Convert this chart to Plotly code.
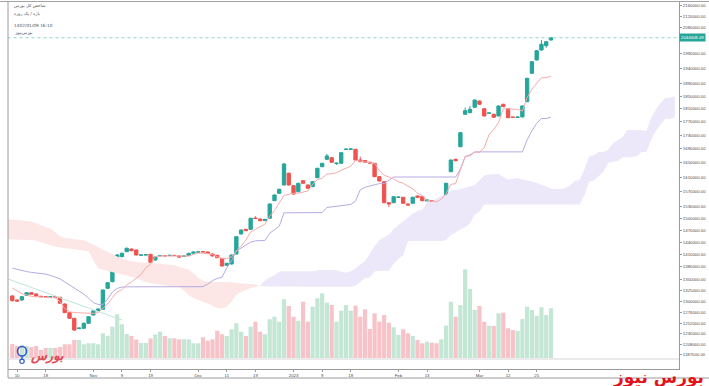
import math
import plotly.graph_objects as go

# ---------------- data (prices in thousands) ----------------
open_k = [1312.8, 1303.8, 1303.8, 1314.4, 1320.3, 1317.4, 1312.0, 1311.3, 1311.0, 1310.8,
          1310.0, 1294.9, 1275.8, 1263.5, 1241.5, 1242.0, 1252.8, 1270.7, 1280.1, 1283.2,
          1330.3, 1345.4, 1398.8, 1404.4, 1416.5, 1423.0, 1420.6, 1408.0, 1408.5, 1410.2,
          1396.4, 1406.5, 1407.0, 1407.0, 1407.7, 1406.1, 1405.3, 1406.8, 1412.6, 1415.5,
          1416.5, 1415.7, 1410.9, 1407.8, 1400.5, 1383.8, 1386.9, 1410.9, 1460.2, 1471.9,
          1471.9, 1500.5, 1498.1, 1493.8, 1500.0, 1546.0, 1565.7, 1588.2, 1620.4, 1586.3,
          1570.0, 1599.9, 1588.2, 1583.7, 1608.2, 1638.8, 1659.7, 1664.3, 1648.0, 1648.4,
          1688.0, 1688.5, 1688.4, 1657.7, 1656.3, 1651.5, 1648.4, 1611.0, 1597.2, 1540.7,
          1540.7, 1555.0, 1555.0, 1537.3, 1539.1, 1558.5, 1556.6, 1545.2, 1546.0, 1537.3,
          1523.3, 1547.8, 1624.8, 1659.7, 1696.0, 1792.9, 1797.9, 1814.6, 1834.3, 1810.2,
          1796.0, 1793.0, 1787.7, 1824.0, 1810.2, 1784.4, 1783.6, 1784.9, 1832.1, 1923.6,
          1967.9, 2001.9, 2016.8, 2036.6]
high_k = [1315.1, 1304.9, 1312.8, 1321.9, 1321.9, 1318.5, 1313.5, 1312.5, 1312.3, 1312.0,
          1310.6, 1296.0, 1276.2, 1264.1, 1243.5, 1254.5, 1268.6, 1280.5, 1285.0, 1327.5,
          1344.7, 1390.5, 1410.9, 1414.5, 1426.7, 1424.3, 1421.8, 1409.5, 1410.5, 1410.9,
          1404.9, 1408.0, 1408.0, 1408.5, 1408.5, 1407.3, 1407.0, 1413.3, 1417.0, 1417.0,
          1417.5, 1417.0, 1412.1, 1408.5, 1401.2, 1389.3, 1409.7, 1455.2, 1471.4, 1472.7,
          1501.3, 1505.3, 1499.4, 1498.1, 1538.6, 1562.5, 1577.9, 1649.2, 1622.6, 1587.6,
          1594.2, 1601.3, 1589.6, 1598.5, 1635.7, 1649.2, 1674.9, 1665.7, 1650.0, 1680.1,
          1690.0, 1690.5, 1689.3, 1667.1, 1657.7, 1652.5, 1649.2, 1612.3, 1598.5, 1541.2,
          1557.9, 1556.5, 1555.8, 1538.6, 1556.3, 1559.5, 1557.9, 1548.5, 1547.3, 1538.6,
          1533.3, 1594.2, 1659.1, 1661.1, 1738.7, 1813.3, 1818.7, 1839.0, 1835.8, 1811.8,
          1798.5, 1794.5, 1820.2, 1825.5, 1811.8, 1785.5, 1785.5, 1820.2, 1908.7, 1963.9,
          2001.3, 2036.6, 2032.4, 2046.2]
low_k = [1300.5, 1299.4, 1302.3, 1312.8, 1315.1, 1311.7, 1310.5, 1310.0, 1310.0, 1309.5,
         1294.9, 1275.1, 1262.0, 1236.3, 1240.5, 1240.6, 1252.3, 1269.7, 1279.5, 1282.8,
         1328.7, 1344.0, 1397.6, 1403.0, 1415.7, 1417.7, 1407.3, 1407.0, 1407.5, 1389.3,
         1395.2, 1405.5, 1405.5, 1406.0, 1406.0, 1402.5, 1404.0, 1406.1, 1412.1, 1414.5,
         1415.0, 1411.4, 1404.9, 1401.2, 1381.0, 1382.2, 1385.7, 1409.7, 1458.9, 1467.2,
         1470.7, 1498.5, 1492.5, 1493.0, 1498.7, 1545.2, 1564.4, 1586.8, 1586.8, 1562.5,
         1568.7, 1591.5, 1577.9, 1582.4, 1606.8, 1637.4, 1658.3, 1649.8, 1643.6, 1647.0,
         1687.0, 1687.5, 1656.3, 1651.5, 1649.8, 1647.5, 1609.6, 1597.7, 1539.4, 1529.4,
         1539.4, 1554.0, 1537.8, 1533.3, 1537.8, 1554.0, 1544.6, 1544.5, 1536.0, 1522.0,
         1522.0, 1546.5, 1623.4, 1654.3, 1694.6, 1791.4, 1796.3, 1813.0, 1822.4, 1786.2,
         1795.0, 1782.3, 1786.2, 1815.0, 1781.1, 1782.5, 1782.5, 1783.3, 1830.5, 1921.9,
         1966.2, 2000.2, 2009.9, 2034.9]
close_k = [1302.3, 1301.6, 1311.3, 1320.3, 1316.7, 1312.8, 1311.5, 1311.0, 1311.3, 1310.5,
           1296.5, 1275.8, 1263.5, 1238.4, 1242.5, 1252.8, 1267.0, 1279.5, 1283.9, 1326.4,
           1343.1, 1388.6, 1408.5, 1412.6, 1424.8, 1418.9, 1408.5, 1408.5, 1409.2, 1391.0,
           1403.7, 1407.0, 1406.5, 1407.7, 1407.2, 1403.7, 1406.0, 1412.6, 1415.7, 1416.0,
           1416.0, 1412.6, 1406.1, 1402.0, 1382.2, 1388.6, 1408.5, 1453.4, 1470.2, 1468.4,
           1500.0, 1499.5, 1493.8, 1497.4, 1537.3, 1561.2, 1576.5, 1646.4, 1588.2, 1563.8,
           1592.8, 1592.8, 1579.3, 1597.2, 1634.3, 1648.4, 1669.2, 1651.2, 1648.8, 1678.6,
           1688.8, 1689.2, 1657.7, 1652.9, 1651.2, 1649.0, 1611.0, 1599.1, 1540.7, 1537.3,
           1556.6, 1555.5, 1539.1, 1534.6, 1555.0, 1555.0, 1546.0, 1547.8, 1537.3, 1523.3,
           1532.0, 1592.8, 1657.7, 1655.7, 1737.2, 1804.0, 1808.3, 1837.4, 1824.0, 1787.7,
           1797.0, 1783.9, 1818.7, 1816.5, 1782.6, 1783.6, 1784.4, 1818.7, 1907.1, 1962.2,
           1999.6, 2021.7, 2030.7, 2044.40849]
volume = [140, 120, 130, 120, 110, 120, 80, 100, 100, 100,
          110, 137, 137, 180, 180, 137, 147, 147, 137, 247,
          223, 313, 437, 337, 240, 220, 185, 150, 150, 195,
          235, 263, 220, 197, 197, 187, 187, 187, 147, 147,
          207, 173, 187, 273, 237, 220, 287, 347, 263, 220,
          313, 363, 263, 237, 387, 413, 363, 587, 520, 413,
          373, 563, 363, 513, 597, 647, 553, 530, 363, 473,
          530, 473, 523, 413, 487, 290, 447, 363, 430, 353,
          307, 230, 287, 247, 220, 180, 147, 163, 153, 147,
          187, 325, 563, 413, 530, 887, 690, 480, 520, 363,
          323, 320, 447, 453, 297, 280, 270, 390, 513, 480,
          423, 507, 430, 497]
tenkan_k = [1331, 1324, 1318, 1315, 1312, 1311, 1310, 1309, 1309, 1309,
            1300, 1285, 1278, 1276, 1275.5, 1274.5, 1274.3, 1274.2, 1276, 1285,
            1295, 1309, 1322, 1327, 1338, 1345, 1353, 1362, 1378, 1386,
            1405, 1406, 1406.5, 1406, 1405.6, 1405, 1405, 1406, 1410, 1413,
            1413, 1411, 1410, 1404, 1400, 1400, 1404, 1418, 1430, 1445,
            1465, 1472, 1478, 1485, 1505, 1520, 1540, 1560, 1563, 1566,
            1566, 1568, 1572, 1590, 1603, 1607, 1618, 1619, 1622, 1629,
            1634, 1640, 1657, 1654, 1652, 1650, 1648, 1628, 1615, 1610,
            1605, 1597, 1593, 1585, 1578, 1566, 1560, 1546, 1545, 1543,
            1550, 1565, 1590, 1592, 1630, 1667, 1670, 1680, 1680, 1693,
            1731, 1747, 1767, 1810, 1810, 1810, 1808, 1803, 1845, 1872,
            1891, 1909, 1909, 1914]
kijun_k = [1377, 1374, 1371, 1369, 1367, 1366, 1365, 1363, 1360, 1356,
           1352, 1345, 1338, 1330, 1324, 1317, 1308, 1298, 1294, 1293,
           1306, 1322, 1330, 1333, 1333.6, 1333.6, 1333.6, 1333.6, 1333.6, 1333.6,
           1333.6, 1333.6, 1333.6, 1333.6, 1333.6, 1333.6, 1333.6, 1333.6, 1333.6, 1333.6,
           1334, 1340, 1348, 1353, 1356, 1378, 1395, 1418, 1426, 1432,
           1440, 1443, 1443, 1444, 1462, 1472, 1480, 1514, 1514.6, 1514.6,
           1514.6, 1514.6, 1514.6, 1514.6, 1514.6, 1514.6, 1528, 1530, 1531, 1532,
           1535, 1536, 1545, 1575, 1582, 1586, 1590, 1592, 1592, 1600,
           1610, 1610, 1610, 1610, 1610, 1610, 1610, 1610, 1610, 1610,
           1610, 1610, 1610, 1610, 1632, 1668, 1672, 1681, 1681, 1681,
           1681, 1681, 1681, 1681, 1681, 1681, 1681, 1681, 1716, 1743,
           1765, 1780, 1780, 1784]
# leading spans, bar index -1 .. 139
span_a_k = [1447,
            1446.8, 1446.5, 1446, 1445.7, 1445.3, 1443, 1439, 1435.5, 1432.5, 1429,
            1426.5, 1425, 1424, 1423, 1421.5, 1419.5, 1417, 1398, 1376, 1373,
            1370, 1367, 1364.5, 1362, 1360, 1357.5, 1354, 1349, 1344.5, 1342,
            1339.5, 1338.5, 1337.5, 1336, 1334.5, 1332.5, 1326, 1315, 1308, 1303,
            1299.8, 1295.8, 1291.2, 1286.1, 1285, 1289, 1300.5, 1315.5, 1322, 1327,
            1331, 1333.5, 1337, 1347.8, 1355.8, 1359.8, 1369.3, 1369.8, 1370, 1369.8,
            1369.6, 1369.3, 1369.3, 1369.8, 1371.8, 1373.3, 1373.3, 1372.3, 1371.8, 1368.8,
            1367, 1370, 1376, 1385.5, 1394, 1411.5, 1430, 1445, 1452, 1458.5,
            1472.5, 1481.5, 1491.5, 1502, 1512.5, 1519, 1523, 1541, 1543.3, 1552.3,
            1558.8, 1560.8, 1573, 1574.5, 1576.5, 1580.5, 1584.5, 1588, 1601, 1614.5,
            1617, 1618, 1619, 1610, 1603.5, 1605, 1607.5, 1603.5, 1601.5, 1597.5,
            1594, 1588, 1585, 1578, 1577.5, 1576.5, 1580, 1587.5, 1600, 1601,
            1631, 1667.5, 1671, 1680.5, 1680.5, 1687, 1706, 1714, 1724, 1745.5,
            1745.5, 1745.5, 1744.5, 1742, 1780.5, 1807.5, 1828, 1844.5, 1844.5, 1849]
span_b_k = [1497.6,
            1496.5, 1495.5, 1494.5, 1493, 1491.5, 1488, 1483, 1478, 1474, 1465,
            1455, 1450, 1448, 1447, 1446, 1444.5, 1439, 1433, 1428, 1421,
            1415, 1410, 1405, 1400, 1396, 1393, 1391.5, 1390.5, 1389.5, 1388.5,
            1388, 1387, 1386, 1385, 1384, 1380, 1376, 1373, 1365, 1354,
            1348, 1345.4, 1345.2, 1345, 1345, 1344.8, 1344, 1342.5, 1341.5, 1340.5,
            1339.5, 1339, 1336.5, 1334.5, 1333.5, 1334, 1334, 1334, 1334, 1334,
            1334, 1334, 1334, 1334, 1334, 1334, 1334, 1334, 1334, 1334,
            1334, 1334, 1336, 1346, 1354, 1355, 1369, 1371, 1371, 1371,
            1387.5, 1399.4, 1407.1, 1442.8, 1442.8, 1442.8, 1442.8, 1442.8, 1442.8, 1442.8,
            1442.8, 1444.9, 1457.8, 1463.6, 1472.3, 1477.2, 1486.4, 1509.6, 1517.3, 1535.8,
            1535.8, 1535.8, 1535.8, 1535.8, 1535.8, 1535.8, 1535.8, 1535.8, 1535.8, 1535.8,
            1535.8, 1535.8, 1535.8, 1535.8, 1535.8, 1535.8, 1535.8, 1535.8, 1535.8, 1535.8,
            1559.9, 1597.2, 1600.5, 1612.4, 1624.4, 1649.0, 1653.1, 1654.9, 1665.8, 1665.8,
            1666.0, 1668.9, 1680.5, 1680.5, 1715.4, 1743.0, 1761.7, 1779.3, 1779.3, 1784.1]
span_start = -1
# faint trend line (bar index, price k)
trend_x = [-0.9, 23.0]
trend_k = [1351.7, 1259.8]

last_price = 2044408.49
x_tick_pos = [1, 7, 17, 23, 29, 39, 45, 51, 59, 65, 71, 81, 87, 98, 104, 110]
x_tick_txt = ["10", "18", "Nov", "9", "19", "Dec", "11", "19", "2023", "9", "18",
              "Feb", "13", "Mar", "12", "25"]
y_ticks = [2160000, 2120000, 2080000, 1990000, 1940000, 1890000, 1850000, 1810000,
           1770000, 1730000, 1690000, 1650000, 1610000, 1570000, 1530000, 1500000,
           1470000, 1440000, 1410000, 1380000, 1350000, 1325000, 1300000, 1276000,
           1252000, 1230000, 1208000, 1187000]
header_lines = ["شاخص کل بورس", "بازه / یک روزه", "1402/01/09 16:10", "بورس‌نیوز"]

# ---------------- styling ----------------
K = 1000.0
GREEN = "#26a69a"
RED = "#ef5350"
VOL_UP = "#c3e6d5"
VOL_DN = "#f8c3c8"
CLOUD_BULL = "#ece8f9"
CLOUD_BEAR = "#fde6e6"
TENKAN_C = "#f5abab"
KIJUN_C = "#b7aae2"

W_PX, H_PX = 709, 386
PL, PR, PT, PB = 8, 679, 2, 369
PW, PH = PR - PL, PB - PT


def pxx(v):
    return (v - PL) / PW


def pxy(v):
    return (PB - v) / PH


n = len(close_k)
xs = list(range(n))
O = [v * K for v in open_k]
H = [v * K for v in high_k]
L = [v * K for v in low_k]
C = [v * K for v in close_k]

fig = go.Figure()

# ---- cloud (split into bull / bear runs) ----
sx = [span_start + i for i in range(len(span_a_k))]
la = [math.log10(v * K) for v in span_a_k]
lb = [math.log10(v * K) for v in span_b_k]
runs = []
cur = {"bull": la[0] >= lb[0], "x": [sx[0]], "a": [la[0]], "b": [lb[0]]}
for i in range(1, len(sx)):
    bull = la[i] >= lb[i]
    if bull != cur["bull"]:
        d0 = la[i - 1] - lb[i - 1]
        d1 = la[i] - lb[i]
        t = d0 / (d0 - d1) if d0 != d1 else 0.0
        xc = sx[i - 1] + t * (sx[i] - sx[i - 1])
        yc = la[i - 1] + t * (la[i] - la[i - 1])
        cur["x"].append(xc); cur["a"].append(yc); cur["b"].append(yc)
        runs.append(cur)
        cur = {"bull": bull, "x": [xc], "a": [yc], "b": [yc]}
    cur["x"].append(sx[i]); cur["a"].append(la[i]); cur["b"].append(lb[i])
runs.append(cur)
for r in runs:
    px_ = r["x"] + r["x"][::-1]
    py_ = [10 ** v for v in r["a"]] + [10 ** v for v in r["b"][::-1]]
    fig.add_trace(go.Scatter(x=px_, y=py_, fill="toself", mode="lines",
                             line=dict(width=0),
                             fillcolor=CLOUD_BULL if r["bull"] else CLOUD_BEAR,
                             hoverinfo="skip", showlegend=False))

# ---- volume ----
vcol = [VOL_UP if c >= o else VOL_DN for o, c in zip(open_k, close_k)]
fig.add_trace(go.Bar(x=xs, y=volume, marker=dict(color=vcol, line=dict(width=0)),
                     yaxis="y2", hoverinfo="skip", showlegend=False))

# ---- lines ----
fig.add_trace(go.Scatter(x=trend_x, y=[v * K for v in trend_k], mode="lines",
                         line=dict(color="#bfe6d8", width=1), hoverinfo="skip",
                         showlegend=False))
fig.add_trace(go.Scatter(x=xs, y=[v * K for v in kijun_k], mode="lines",
                         line=dict(color=KIJUN_C, width=1), hoverinfo="skip",
                         showlegend=False))
fig.add_trace(go.Scatter(x=xs, y=[v * K for v in tenkan_k], mode="lines",
                         line=dict(color=TENKAN_C, width=1), hoverinfo="skip",
                         showlegend=False))
fig.add_trace(go.Scatter(x=[-1, 141], y=[last_price, last_price], mode="lines",
                         line=dict(color="#8fd3cb", width=1, dash="dot"),
                         hoverinfo="skip", showlegend=False))

# ---- candles ----
fig.add_trace(go.Candlestick(
    x=xs, open=O, high=H, low=L, close=C,
    increasing=dict(line=dict(color=GREEN, width=1), fillcolor=GREEN),
    decreasing=dict(line=dict(color=RED, width=1), fillcolor=RED),
    whiskerwidth=0, hoverinfo="skip", showlegend=False))

# ---------------- layout ----------------
ylo = math.log10(2160000) - (PB - 5.7) / 583 / math.log(10)
yhi = math.log10(2160000) + (5.7 - PT) / 583 / math.log(10)
x_lo = (PL - 12.3) / 4.767
x_hi = (PR - 12.3) / 4.767
v_lo = -(PB - 358) * 10
v_hi = (358 - PT) * 10

axis_font = dict(family="Liberation Sans", size=4.3, color="#4a4a4a")

fig.update_layout(
    width=W_PX, height=H_PX,
    margin=dict(l=PL, r=W_PX - PR, t=PT, b=H_PX - PB, autoexpand=False),
    paper_bgcolor="white", plot_bgcolor="white",
    showlegend=False, hovermode=False,
    bargap=0.12, boxgap=0.3, boxgroupgap=0.0,
    xaxis=dict(range=[x_lo, x_hi], tickmode="array", tickvals=x_tick_pos,
               ticktext=x_tick_txt, tickfont=axis_font, ticks="outside",
               ticklen=2, tickcolor="#9a9a9a", showgrid=False, zeroline=False,
               showline=True, linecolor="#9a9a9a", linewidth=1, automargin=False,
               rangeslider=dict(visible=False), fixedrange=True),
    yaxis=dict(type="log", range=[ylo, yhi], side="right", tickmode="array",
               tickvals=y_ticks, ticktext=[f"{v:.2f}" for v in y_ticks],
               tickfont=axis_font, ticks="outside", ticklen=2,
               tickcolor="#9a9a9a", showgrid=False, zeroline=False, automargin=False,
               showline=True, linecolor="#9a9a9a", linewidth=1, fixedrange=True),
    yaxis2=dict(range=[v_lo, v_hi], overlaying="y", visible=False,
                automargin=False, fixedrange=True),
)

LOGO_BLUE = "#3558d6"
shapes = [
    dict(type="line", xref="paper", yref="paper", x0=pxx(0), x1=pxx(709),
         y0=pxy(1.5), y1=pxy(1.5), line=dict(color="#a3a3a3", width=1)),
    dict(type="line", xref="paper", yref="paper", x0=pxx(8), x1=pxx(8),
         y0=pxy(1.5), y1=pxy(378), line=dict(color="#9a9a9a", width=1)),
    dict(type="line", xref="paper", yref="paper", x0=pxx(8), x1=pxx(709),
         y0=pxy(378), y1=pxy(378), line=dict(color="#9a9a9a", width=1)),
    dict(type="line", xref="paper", yref="paper", x0=pxx(8), x1=pxx(679),
         y0=pxy(359), y1=pxy(359), line=dict(color="#d6d6d6", width=1)),
    # logo pin (bottom-left watermark)
    dict(type="circle", xref="paper", yref="paper", x0=pxx(17.5), x1=pxx(26.5),
         y0=pxy(356), y1=pxy(346.5), line=dict(color=LOGO_BLUE, width=1.6)),
    dict(type="line", xref="paper", yref="paper", x0=pxx(22), x1=pxx(22),
         y0=pxy(356), y1=pxy(360), line=dict(color=LOGO_BLUE, width=1.4)),
    dict(type="circle", xref="paper", yref="paper", x0=pxx(19.8), x1=pxx(24.2),
         y0=pxy(363.5), y1=pxy(359.2), line=dict(color=LOGO_BLUE, width=1.2)),
]
fig.update_layout(shapes=shapes)

ann = []
for i, (t, yy) in enumerate(zip(header_lines, [6, 14, 26, 33])):
    ann.append(dict(text=t, xref="paper", yref="paper", x=pxx(12), y=pxy(yy),
                    xanchor="left", yanchor="middle", showarrow=False,
                    font=dict(family="DejaVu Sans", size=4.3, color="#555555")))
ann.append(dict(text=f"{last_price:.2f}", xref="paper", yref="y", x=1.0,
                y=math.log10(last_price), xanchor="left", yanchor="middle",
                showarrow=False, bgcolor=GREEN, borderpad=1,
                font=dict(family="Liberation Sans", size=4.3, color="white")))
ann.append(dict(text="<b>بورس نیوز</b>", xref="paper", yref="paper",
                x=pxx(706), y=pxy(377.5), xanchor="right", yanchor="middle",
                showarrow=False,
                font=dict(family="DejaVu Sans", size=17, color="#e3131b")))
ann.append(dict(text="<b><i>بورس</i></b>", xref="paper", yref="paper",
                x=pxx(28), y=pxy(355.5), xanchor="left", yanchor="middle",
                showarrow=False, opacity=0.85,
                font=dict(family="DejaVu Sans", size=13, color="#d8323a")))
fig.update_layout(annotations=ann)

fig.write_html("out.html",
               config={"displayModeBar": False, "staticPlot": True},
               post_script="document.body.style.margin='0px';"
                           "document.body.style.overflow='hidden';")
